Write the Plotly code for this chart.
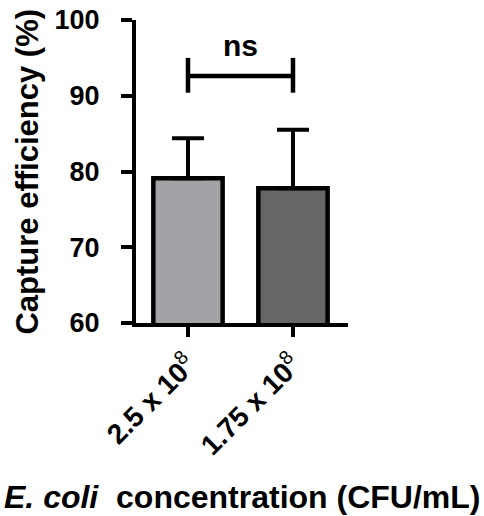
import plotly.graph_objects as go

# --- data ---
categories = ["2.5 x 10^8", "1.75 x 10^8"]
tick_labels = ["2.5 x 10<sup><span style='font-weight:normal'>8</span></sup>",
               "1.75 x 10<sup><span style='font-weight:normal'>8</span></sup>"]
capture_eff = [79.1, 77.8]
sd_upper = [5.3, 7.7]
bar_colors = ["#a3a3a7", "#666666"]

# significance bracket between the two groups
bracket_y = 92.6
bracket_top = 95.0
bracket_bottom = 90.4
sig_label = "ns"
sig_label_y = 96.6

y_title = "Capture efficiency (%)"
x_title = "<i>E. coli</i>\u00a0 concentration (CFU/mL)"

FONT = "Liberation Sans, Arial, sans-serif"

fig = go.Figure()

fig.add_trace(go.Bar(
    x=categories, y=capture_eff,
    width=0.66,
    marker=dict(color=bar_colors, line=dict(color="black", width=4.5)),
    error_y=dict(type="data", symmetric=False, array=sd_upper,
                 arrayminus=[0] * len(sd_upper),
                 color="black", thickness=4, width=16),
    showlegend=False,
))

# bracket: two vertical ticks + horizontal bar
fig.add_trace(go.Scatter(
    x=[categories[0], categories[0], None,
       categories[0], categories[1], None,
       categories[1], categories[1]],
    y=[bracket_bottom, bracket_top, None,
       bracket_y, bracket_y, None,
       bracket_bottom, bracket_top],
    mode="lines", line=dict(color="black", width=4.5),
    hoverinfo="skip", showlegend=False,
))

fig.add_annotation(
    x=0.5, xref="x", y=sig_label_y, yref="y",
    text=sig_label, showarrow=False,
    font=dict(family=FONT, size=30, color="black", weight="bold"),
)

# axis titles as paper annotations so they sit where the reference has them
fig.add_annotation(
    x=-0.514, xref="paper", y=0.5, yref="paper",
    text=y_title, textangle=-90, showarrow=False,
    xanchor="center", yanchor="middle",
    font=dict(family=FONT, size=31, color="black", weight="bold"),
)
fig.add_annotation(
    x=0.5, xref="paper", y=-0.575, yref="paper",
    text=x_title, showarrow=False,
    xanchor="center", yanchor="middle",
    font=dict(family=FONT, size=32, color="black", weight="bold"),
)

fig.update_layout(
    width=484, height=516,
    margin=dict(l=136, r=136, t=20, b=193, autoexpand=False),
    paper_bgcolor="white", plot_bgcolor="white",
)

fig.update_xaxes(
    type="category",
    range=[-0.495, 1.524],
    tickvals=categories, ticktext=tick_labels,
    tickangle=-45,
    tickfont=dict(family=FONT, size=28, color="black", weight="bold"),
    showline=True, linecolor="black", linewidth=4,
    ticks="outside", ticklen=10, tickwidth=4, tickcolor="black",
    showgrid=False, zeroline=False, automargin=False,
)

fig.update_yaxes(
    range=[60, 100],
    tickvals=[60, 70, 80, 90, 100],
    tickfont=dict(family=FONT, size=27, color="black", weight="bold"),
    showline=True, linecolor="black", linewidth=4,
    ticks="outside", ticklen=11, tickwidth=4, tickcolor="black",
    ticklabelstandoff=16,
    showgrid=False, zeroline=False, automargin=False,
)

# drop the default page margin so the figure fills the window exactly
fig.write_html("out.html", config={"displayModeBar": False},
               post_script="document.body.style.margin='0';")
